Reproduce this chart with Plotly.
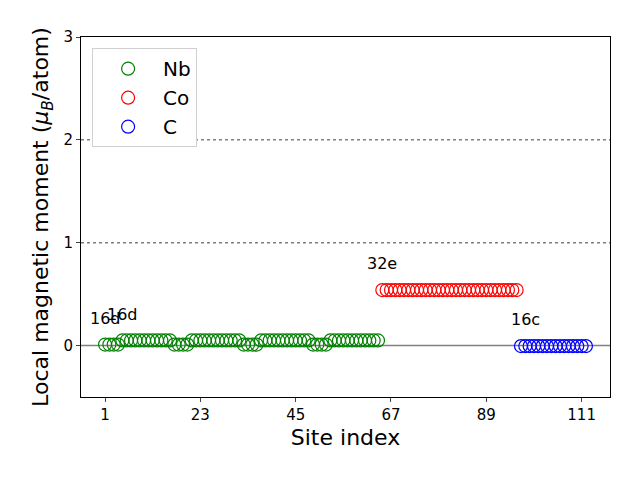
import plotly.graph_objects as go

# ---- data ----
nb_sites = list(range(1, 65))
nb_moments = [0.01, 0.01, 0.01, 0.01, 0.05, 0.05, 0.05, 0.05, 0.05, 0.05, 0.05, 0.05, 0.05, 0.05, 0.05, 0.05,
              0.01, 0.01, 0.01, 0.01, 0.05, 0.05, 0.05, 0.05, 0.05, 0.05, 0.05, 0.05, 0.05, 0.05, 0.05, 0.05,
              0.01, 0.01, 0.01, 0.01, 0.05, 0.05, 0.05, 0.05, 0.05, 0.05, 0.05, 0.05, 0.05, 0.05, 0.05, 0.05,
              0.01, 0.01, 0.01, 0.01, 0.05, 0.05, 0.05, 0.05, 0.05, 0.05, 0.05, 0.05, 0.05, 0.05, 0.05, 0.05]
co_sites = list(range(65, 97))
co_moments = [0.54] * 32
c_sites = list(range(97, 113))
c_moments = [-0.005] * 16

label_texts = ["16d", "16d", "32e", "16c"]
label_sites = [1, 5, 65, 98]
label_values = [0.26, 0.30, 0.80, 0.25]

x_ticks = [1, 23, 45, 67, 89, 111]
y_ticks = [0, 1, 2, 3]

FONT = "DejaVu Sans"

fig = go.Figure()
for name, xs, ys, col in [("Nb", nb_sites, nb_moments, "green"),
                          ("Co", co_sites, co_moments, "red"),
                          ("C", c_sites, c_moments, "blue")]:
    fig.add_trace(go.Scatter(x=xs, y=ys, mode="markers", name=name,
                             marker=dict(symbol="circle-open", size=13, color=col,
                                         line=dict(width=1.2, color=col))))

# reference lines
fig.add_hline(y=0, line=dict(color="gray", width=1.5), layer="below")
for yv in [1, 2]:
    fig.add_hline(y=yv, line=dict(color="gray", width=1.5, dash="dot"), layer="below")

for t, s, v in zip(label_texts, label_sites, label_values):
    fig.add_annotation(x=s, y=v, text=t, showarrow=False,
                       font=dict(family=FONT, size=16, color="black"),
                       xanchor="center", yanchor="middle")

fig.update_layout(
    width=640, height=480,
    margin=dict(l=81, r=30, t=37, b=83),
    paper_bgcolor="white", plot_bgcolor="white",
    font=dict(family=FONT, size=15, color="black"),
    showlegend=True,
    legend=dict(x=0.021, y=0.969, xanchor="left", yanchor="top",
                bgcolor="white", bordercolor="#d0d0d0", borderwidth=1,
                font=dict(family=FONT, size=20), itemwidth=60,
                tracegroupgap=0),
    xaxis=dict(range=[-4.55, 117.55], tickvals=x_ticks, ticks="outside", ticklen=4,
               showgrid=False, zeroline=False, showline=True, linecolor="black",
               linewidth=1, mirror=True,
               title=dict(text="Site index", font=dict(family=FONT, size=22), standoff=6)),
    yaxis=dict(range=[-0.5, 3], tickvals=y_ticks, ticks="outside", ticklen=4,
               showgrid=False, zeroline=False, showline=True, linecolor="black",
               linewidth=1, mirror=True,
               title=dict(text="Local magnetic moment (<i>μ</i><sub><i>B</i></sub>/atom)",
                          font=dict(family=FONT, size=22), standoff=8)),
)

fig.write_html("out.html")
